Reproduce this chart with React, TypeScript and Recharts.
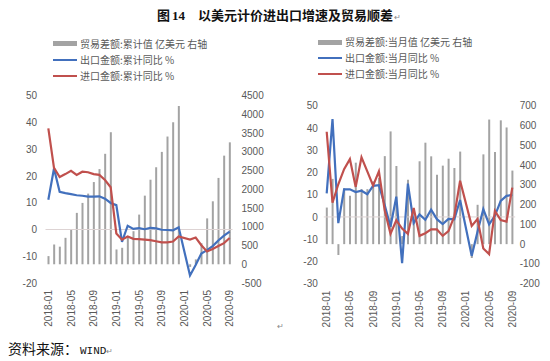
import React from 'react'
import { ComposedChart, Bar, Line, XAxis, YAxis, ReferenceLine } from 'recharts'

const months = [
    '2018-01', '2018-02', '2018-03', '2018-04', '2018-05', '2018-06', '2018-07', '2018-08', '2018-09', '2018-10', '2018-11', '2018-12',
    '2019-01', '2019-02', '2019-03', '2019-04', '2019-05', '2019-06', '2019-07', '2019-08', '2019-09', '2019-10', '2019-11', '2019-12',
    '2020-01', '2020-02', '2020-03', '2020-04', '2020-05', '2020-06', '2020-07', '2020-08', '2020-09',
]
const monthTicks = ['2018-01', '2018-05', '2018-09', '2019-01', '2019-05', '2019-09', '2020-01', '2020-05', '2020-09']

// left panel: cumulative (亿美元 / %)
const cumBalance = [
    218, 528, 470, 706, 935, 1372, 1638, 1886, 2195, 2541, 2949, 3525,
    395, 440, 750, 883, 1326, 1832, 2257, 2590, 3000, 3410, 3791, 4225,
    null, -71, 130, 560, 1225, 1681, 2305, 2900, 3255,
]
const cumExportYoY = [
    11.1, 22.8, 14.1, 13.6, 13.2, 12.8, 12.6, 12.3, 12.3, 12.4, 11.5, 9.9,
    9.1, -4.6, 1.4, 0.2, 0.5, 0.1, 0.6, 0.4, -0.1, -0.2, -0.3, 0.8,
    null, -17.2, -13.3, -9.0, -7.7, -6.2, -4.1, -2.3, -0.8,
]
const cumImportYoY = [
    37.8, 23.0, 19.6, 20.7, 21.9, 20.4, 21.6, 21.4, 20.7, 20.4, 18.5, 15.8,
    -1.5, -3.8, -2.6, -3.5, -3.6, -3.8, -4.0, -4.4, -4.8, -4.8, -4.5, -2.6,
    null, -3.8, -3.0, -5.9, -8.2, -7.3, -6.2, -5.1, -3.2,
]

// right panel: monthly (亿美元 / %)
const monBalance = [
    185, 330, -55, 283, 245, 412, 278, 278, 317, 335, 445, 570,
    395, 41, 325, 138, 419, 513, 444, 351, 397, 432, 385, 468,
    null, -70, 199, 454, 630, 466, 626, 590, 372,
]
const monExportYoY = [
    10.6, 44.0, -2.8, 12.4, 12.4, 11.2, 11.8, 10.2, 14.0, 14.3, 5.4, -4.4,
    9.1, -20.8, 15.0, -2.7, 1.1, -1.3, 3.3, -1.0, -3.2, -0.9, -1.1, 7.6,
    null, -17.5, -6.6, 3.5, -3.3, 0.5, 7.2, 9.5, 9.9,
]
const monImportYoY = [
    38.3, 6.4, 14.7, 21.5, 26.0, 13.5, 26.8, 20.5, 14.1, 20.5, 3.0, -7.6,
    -1.5, -5.2, -7.6, 4.0, -8.5, -7.3, -5.6, -5.6, -8.5, -6.4, 0.3, 16.3,
    null, -4.0, -0.9, -14.2, -16.7, 2.7, -1.4, -2.1, 13.2,
]

const leftLegend = ['贸易差额:累计值 亿美元 右轴', '出口金额:累计同比 %', '进口金额:累计同比 %']
const rightLegend = ['贸易差额:当月值 亿美元 右轴', '出口金额:当月同比 %', '进口金额:当月同比 %']

const cumPctTicks = [-20, -10, 0, 10, 20, 30, 40, 50]
const cumBalTicks = [-500, 0, 500, 1000, 1500, 2000, 2500, 3000, 3500, 4000, 4500]
const monPctTicks = [-30, -20, -10, 0, 10, 20, 30, 40, 50]
const monBalTicks = [-200, -100, 0, 100, 200, 300, 400, 500, 600, 700]

const BAR = '#a3a3a3'
const BLUE = '#4270bd'
const RED = '#c0504d'
const TXT = '#595959'
const FONT = '"Liberation Sans", Arial, sans-serif'
const CJK = '"Noto Sans CJK SC", sans-serif'

function MonthTick({ x, y, payload }: any) {
    return (
        <g transform={`translate(${x},${y}) rotate(-90)`}>
            <text x={0} y={0} dy="0.35em" textAnchor="end" fontSize={10} fill={TXT} fontFamily={FONT}>
                {payload.value}
            </text>
        </g>
    )
}

interface PanelProps {
    balance: (number | null)[]
    exportYoY: (number | null)[]
    importYoY: (number | null)[]
    pctTicks: number[]
    balTicks: number[]
    box: { left: number; top: number; width: number; height: number }
    plot: { top: number; leftW: number; rightW: number; xH: number; leftGap: number; rightGap: number }
}

function Panel({ balance, exportYoY, importYoY, pctTicks, balTicks, box, plot }: PanelProps) {
    const data = months.map((m, i) => ({ month: m, balance: balance[i], exp: exportYoY[i], imp: importYoY[i] }))
    const tickStyle = { fill: TXT, fontSize: 10, fontFamily: FONT }
    return (
        <div style={{ position: 'absolute', left: box.left, top: box.top }}>
            <ComposedChart
                width={box.width}
                height={box.height}
                data={data}
                margin={{ top: plot.top, right: 0, bottom: 0, left: 0 }}
            >
                <XAxis
                    dataKey="month"
                    ticks={monthTicks}
                    interval={0}
                    tick={<MonthTick />}
                    tickLine={false}
                    axisLine={false}
                    tickSize={0}
                    tickMargin={7}
                    height={plot.xH}
                />
                <YAxis
                    yAxisId="left"
                    type="number"
                    domain={[pctTicks[0], pctTicks[pctTicks.length - 1]]}
                    ticks={pctTicks}
                    interval={0}
                    width={plot.leftW}
                    tick={tickStyle}
                    tickLine={false}
                    axisLine={false}
                    tickSize={0}
                    tickMargin={plot.leftGap}
                />
                <YAxis
                    yAxisId="right"
                    orientation="right"
                    type="number"
                    domain={[balTicks[0], balTicks[balTicks.length - 1]]}
                    ticks={balTicks}
                    interval={0}
                    width={plot.rightW}
                    tick={{ ...tickStyle, textAnchor: 'start' }}
                    tickLine={false}
                    axisLine={false}
                    tickSize={0}
                    tickMargin={plot.rightGap}
                />
                <ReferenceLine yAxisId="left" y={0} stroke="#ddd3d3" strokeWidth={1} />
                <Bar yAxisId="right" dataKey="balance" fill={BAR} barSize={2} isAnimationActive={false} />
                <Line yAxisId="left" dataKey="exp" stroke={BLUE} strokeWidth={2.2} dot={false} connectNulls type="linear" isAnimationActive={false} />
                <Line yAxisId="left" dataKey="imp" stroke={RED} strokeWidth={2.2} dot={false} connectNulls type="linear" isAnimationActive={false} />
            </ComposedChart>
        </div>
    )
}

function LegendBlock({ labels, left, tops }: { labels: string[]; left: number; tops: number[] }) {
    const swatches = [
        { background: BAR, height: 5 },
        { background: BLUE, height: 2 },
        { background: RED, height: 2 },
    ]
    return (
        <>
            {labels.map((label, i) => (
                <div key={label} style={{ position: 'absolute', left, top: tops[i] - 8, height: 16, display: 'flex', alignItems: 'center' }}>
                    <div style={{ width: 24, height: swatches[i].height, background: swatches[i].background }} />
                    <span style={{ marginLeft: 3, fontSize: 10, color: TXT, fontFamily: CJK, whiteSpace: 'nowrap', lineHeight: '16px' }}>
                        {label}
                    </span>
                </div>
            ))}
        </>
    )
}

export default function App() {
    return (
        <div style={{ position: 'absolute', left: 0, top: 0, width: 550, height: 361, background: '#fff', overflow: 'hidden' }}>
            <div style={{ position: 'absolute', left: 157, top: 6, height: 18, lineHeight: '18px', fontFamily: CJK, fontWeight: 700, fontSize: 13, color: '#111', whiteSpace: 'nowrap' }}>
                图<span style={{ fontFamily: '"Liberation Serif", serif', fontSize: 13, marginLeft: 2 }}>14</span>
            </div>
            <div style={{ position: 'absolute', left: 198, top: 6, height: 18, lineHeight: '18px', fontFamily: CJK, fontWeight: 700, fontSize: 13, color: '#111', whiteSpace: 'nowrap' }}>
                以美元计价进出口增速及贸易顺差<span style={{ fontSize: 8, fontWeight: 400, color: '#888', marginLeft: 1 }}>↵</span>
            </div>

            <LegendBlock labels={leftLegend} left={53} tops={[43.5, 59.5, 75.5]} />
            <LegendBlock labels={rightLegend} left={318} tops={[42, 58, 74]} />

            <Panel
                balance={cumBalance}
                exportYoY={cumExportYoY}
                importYoY={cumImportYoY}
                pctTicks={cumPctTicks}
                balTicks={cumBalTicks}
                box={{ left: 0, top: 90, width: 275, height: 250 }}
                plot={{ top: 5.7, leftW: 45.5, rightW: 42.5, xH: 57, leftGap: 8.5, rightGap: 9 }}
            />
            <Panel
                balance={monBalance}
                exportYoY={monExportYoY}
                importYoY={monImportYoY}
                pctTicks={monPctTicks}
                balTicks={monBalTicks}
                box={{ left: 270, top: 90, width: 280, height: 250 }}
                plot={{ top: 15.7, leftW: 53.8, rightW: 34.8, xH: 56.3, leftGap: 6, rightGap: 4.5 }}
            />

            <div style={{ position: 'absolute', left: 277, top: 322, fontSize: 8, color: '#888' }}>↵</div>

            <div style={{ position: 'absolute', left: 8, top: 338, height: 20, lineHeight: '20px', whiteSpace: 'nowrap', color: '#111' }}>
                <span style={{ fontFamily: CJK, fontSize: 14 }}>资料来源：</span>
                <span style={{ fontFamily: '"Liberation Mono", monospace', fontSize: 11, marginLeft: 2 }}>WIND</span>
                <span style={{ fontSize: 8, color: '#888' }}>↵</span>
            </div>
        </div>
    )
}
